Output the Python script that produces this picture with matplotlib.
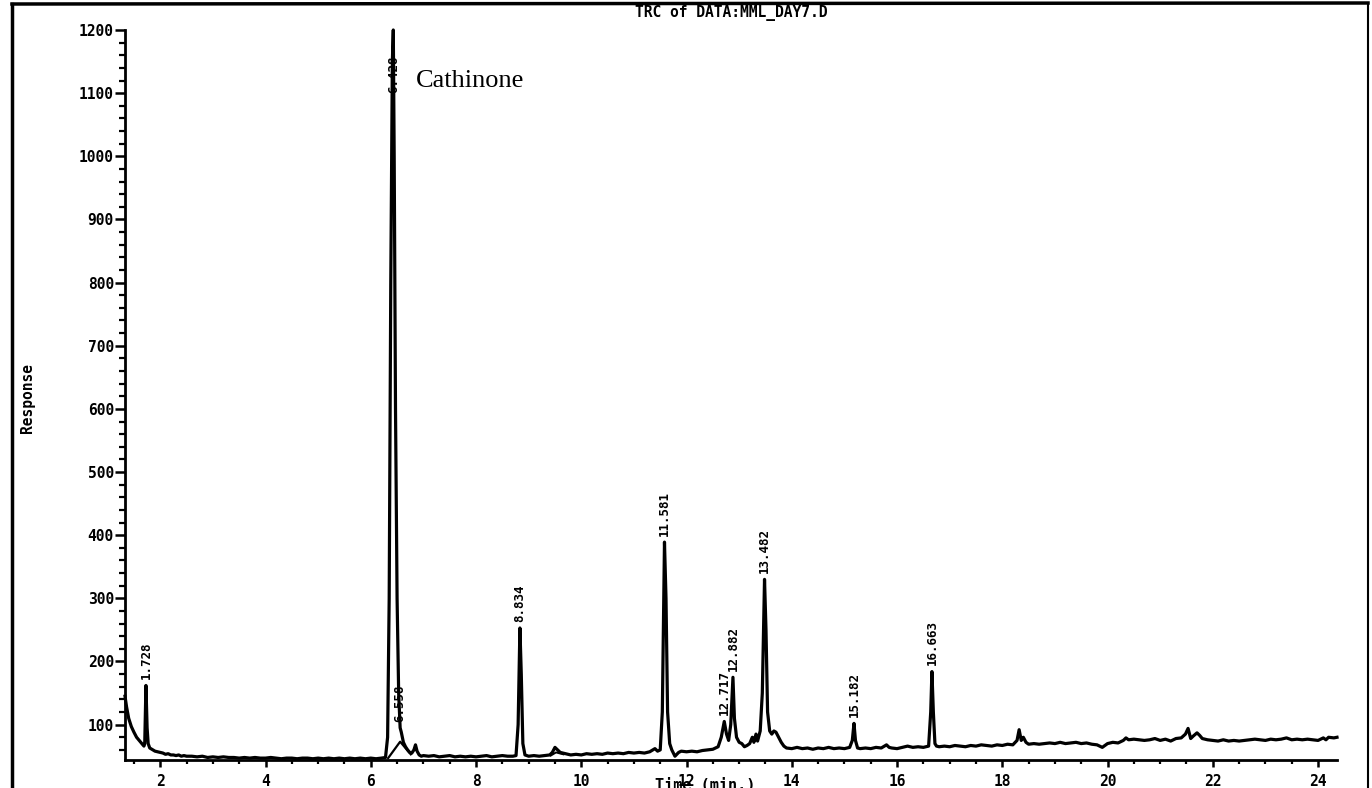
import numpy as np
import matplotlib
matplotlib.use("Agg")
import matplotlib.pyplot as plt
from matplotlib.ticker import MultipleLocator
from matplotlib.lines import Line2D

# chromatogram trace (time in min, response)
time = [1.33, 1.36, 1.40, 1.45, 1.50, 1.55, 1.60, 1.65, 1.69, 1.705, 1.728, 1.75, 1.77, 1.80,
        1.86, 1.90, 1.95, 2.00, 2.05, 2.10, 2.15, 2.20, 2.25, 2.30, 2.35, 2.40, 2.45, 2.50,
        2.6, 2.7, 2.8, 2.9, 3.0, 3.1, 3.2, 3.3, 3.4, 3.5, 3.6, 3.7, 3.8, 3.9, 4.0, 4.1, 4.2,
        4.3, 4.4, 4.5, 4.6, 4.7, 4.8, 4.9, 5.0, 5.1, 5.2, 5.3, 5.4, 5.5, 5.6, 5.7, 5.8, 5.9,
        6.0, 6.1, 6.2, 6.28,
        6.32, 6.35, 6.38, 6.41, 6.428, 6.445, 6.47, 6.50, 6.53, 6.558, 6.58, 6.62, 6.66, 6.70,
        6.74, 6.78, 6.82, 6.85, 6.88, 6.92, 6.96, 7.0,
        7.1, 7.2, 7.3, 7.4, 7.5, 7.6, 7.7, 7.8, 7.9, 8.0, 8.1, 8.2, 8.3, 8.4, 8.5, 8.6, 8.7,
        8.76, 8.80, 8.834, 8.86, 8.89, 8.93, 9.0, 9.1, 9.2, 9.3, 9.4, 9.45, 9.5, 9.55, 9.6,
        9.7, 9.8, 9.9, 10.0, 10.1, 10.2, 10.3, 10.4, 10.5, 10.6, 10.7, 10.8, 10.9, 11.0, 11.1,
        11.2, 11.3, 11.4, 11.45, 11.5, 11.54, 11.581, 11.61, 11.64, 11.68, 11.72, 11.78,
        11.85, 11.9, 12.0, 12.1, 12.2, 12.3, 12.4, 12.5, 12.6, 12.66, 12.717, 12.76, 12.80,
        12.84, 12.882, 12.91, 12.95, 13.0, 13.05, 13.1, 13.15, 13.2, 13.25, 13.28, 13.32,
        13.35, 13.40, 13.44, 13.482, 13.51, 13.54, 13.58, 13.62, 13.66, 13.70, 13.75, 13.8,
        13.85, 13.9, 14.0, 14.1, 14.2, 14.3, 14.4, 14.5, 14.6, 14.7, 14.8, 14.9, 15.0, 15.1,
        15.15, 15.182, 15.21, 15.25, 15.3, 15.4, 15.5, 15.6, 15.7, 15.8, 15.85, 15.9, 16.0,
        16.1, 16.2, 16.3, 16.4, 16.5, 16.6, 16.64, 16.663, 16.69, 16.72, 16.75, 16.8, 16.9,
        17.0, 17.1, 17.2, 17.3, 17.4, 17.5, 17.6, 17.7, 17.8, 17.9, 18.0, 18.1, 18.2, 18.28,
        18.32, 18.36, 18.4, 18.45, 18.5, 18.6, 18.7, 18.8, 18.9, 19.0, 19.1, 19.2, 19.3, 19.4,
        19.5, 19.6, 19.7, 19.8, 19.9, 20.0, 20.1, 20.2, 20.3, 20.35, 20.4, 20.5, 20.6, 20.7,
        20.8, 20.9, 21.0, 21.1, 21.2, 21.3, 21.4, 21.48, 21.53, 21.58, 21.63, 21.7, 21.75,
        21.8, 21.9, 22.0, 22.1, 22.2, 22.3, 22.4, 22.5, 22.6, 22.7, 22.8, 22.9, 23.0, 23.1,
        23.2, 23.3, 23.4, 23.5, 23.6, 23.7, 23.8, 23.9, 24.0, 24.1, 24.15, 24.2, 24.3, 24.36]
response = [145, 128, 110, 97, 88, 80, 75, 70, 66, 70, 162, 95, 70, 63,
            60, 58, 57, 56, 55, 53, 54, 52, 52, 51, 52, 50, 51, 50,
            50, 49, 50, 48, 49, 48, 49, 48, 48, 47, 48, 47, 48, 47, 47, 48, 47,
            46, 47, 47, 46, 47, 47, 46, 47, 46, 47, 46, 47, 46, 47, 46, 47, 46,
            47, 46, 47, 48,
            80, 300, 800, 1150, 1200, 1000, 600, 300, 150, 95, 88, 72, 65, 60,
            56, 55, 60, 68, 58, 52, 50, 51,
            50, 51, 49, 50, 51, 49, 50, 49, 50, 49, 50, 51, 49, 50, 51, 50, 50,
            51, 100, 253, 180, 70, 52, 50, 51, 50, 51, 52, 56, 64, 60, 56,
            54, 52, 53, 52, 54, 53, 54, 53, 55, 54, 55, 54, 56, 55, 56,
            55, 57, 62, 58, 60, 120, 389, 300, 120, 70, 60, 50,
            56, 58, 57, 58, 57, 59, 60, 61, 65, 80, 105, 85, 75,
            100, 175, 110, 80, 72, 70, 65, 67, 70, 80, 72, 85,
            74, 90, 150, 330, 250, 120, 90, 85, 90, 88, 80, 72,
            66, 63, 62, 64, 62, 63, 61, 63, 62, 64, 62, 63, 62, 64,
            75, 102, 75, 63, 62, 63, 62, 64, 63, 68, 64, 63, 62,
            64, 66, 64, 65, 64, 66, 120, 184, 120, 70, 66, 65, 66,
            65, 67, 66, 65, 67, 66, 68, 67, 66, 68, 67, 69, 68, 75,
            92, 75, 80, 72, 69, 70, 69, 70, 71, 70, 72, 70, 71, 72,
            70, 71, 69, 68, 64, 70, 72, 71, 75, 79, 76, 77, 76, 75,
            76, 78, 75, 77, 74, 78, 79, 85, 94, 78, 82, 87, 83,
            78, 76, 75, 74, 76, 74, 75, 74, 75, 76, 77, 76, 75, 77,
            76, 77, 79, 76, 77, 76, 77, 76, 75, 79, 76, 80, 79, 80]

# integration baselines drawn by the data system
base_time = [6.33, 6.558, 6.76]
base_resp = [47, 73, 53]
base2_time = [9.42, 9.52, 9.66]
base2_resp = [51, 56, 53]

# peak labels
peak_rt = [1.728, 6.428, 6.558, 8.834, 11.581, 12.717, 12.882, 13.482, 15.182, 16.663]
peak_top = [162, 1090, 95, 253, 389, 105, 175, 330, 102, 184]
peak_text = ["1.728", "6.428", "6.558", "8.834", "11.581", "12.717", "12.882", "13.482",
             "15.182", "16.663"]

mono = "DejaVu Sans Mono"

fig = plt.figure(figsize=(13.72, 7.88), dpi=100)
ax = fig.add_axes([125 / 1372, 28 / 788, (1337 - 125) / 1372, (760 - 30) / 788])

ax.plot(time, response, color="black", lw=2.3, clip_on=False, solid_joinstyle="round")
ax.plot(base_time, base_resp, color="black", lw=1.6)
ax.plot(base2_time, base2_resp, color="black", lw=1.4)

for rt, top, txt in zip(peak_rt, peak_top, peak_text):
    ax.annotate(txt, xy=(rt, top), xytext=(0, 4.5), textcoords="offset points",
                rotation=90, ha="center", va="bottom", fontsize=9,
                family=mono, fontweight="bold")

ax.set_xlim(1.33, 24.36)
ax.set_ylim(44, 1200)

for s in ["top", "right"]:
    ax.spines[s].set_visible(False)
ax.spines["left"].set_linewidth(2)
ax.spines["bottom"].set_linewidth(2)

ax.xaxis.set_major_locator(MultipleLocator(2))
ax.xaxis.set_minor_locator(MultipleLocator(0.5))
ax.yaxis.set_major_locator(MultipleLocator(100))
ax.yaxis.set_minor_locator(MultipleLocator(20))
ax.set_yticks(np.arange(100, 1201, 100))
ax.tick_params(axis="y", which="major", length=7, width=1.8, pad=1, labelsize=10.5)
ax.tick_params(axis="y", which="minor", length=4, width=1.6)
ax.tick_params(axis="x", which="major", length=5, width=1.8, pad=5, labelsize=10.5)
ax.tick_params(axis="x", which="minor", length=3, width=1.6)
for lab in ax.get_xticklabels() + ax.get_yticklabels():
    lab.set_family(mono)
    lab.set_fontweight("bold")

ax.text(6.85, 1120, "Cathinone", fontsize=19, family="Liberation Serif", va="center",
        ha="left")

fig.text(731 / 1372, 1 - 13 / 788, "TRC of DATA:MML_DAY7.D", ha="center", va="center",
         fontsize=10.5, family=mono, fontweight="bold")
fig.text(27 / 1372, 1 - 398 / 788, "Response", rotation=90, ha="center", va="center",
         fontsize=10.5, family=mono, fontweight="bold")
fig.text(705 / 1372, 1 - 786 / 788, "Time (min.)", ha="center", va="center",
         fontsize=11, family=mono, fontweight="bold")

# scanned page frame
fig.add_artist(Line2D([12 / 1372, 12 / 1372], [0, 1 - 4 / 788], color="black", lw=2.5))
fig.add_artist(Line2D([12 / 1372, 1368 / 1372], [1 - 4 / 788, 1 - 3 / 788],
                      color="black", lw=2.5))
fig.add_artist(Line2D([1368 / 1372, 1368 / 1372], [0, 1 - 3 / 788], color="black", lw=1.5))

fig.savefig("out.png", dpi=100)
